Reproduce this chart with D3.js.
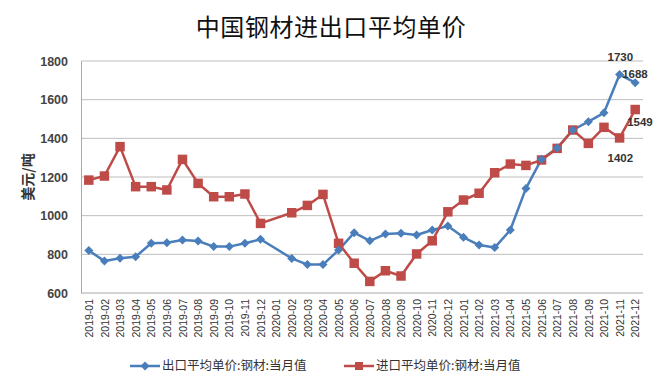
<!DOCTYPE html>
<html><head><meta charset="utf-8">
<script src="https://cdn.jsdelivr.net/npm/d3@7"></script>
<style>body{margin:0;background:#fff}svg{display:block}</style>
</head><body>
<svg id="c" width="660" height="391"></svg>
<script>
const categories = ["2019-01","2019-02","2019-03","2019-04","2019-05","2019-06","2019-07","2019-08","2019-09","2019-10","2019-11","2019-12",
"2020-01","2020-02","2020-03","2020-04","2020-05","2020-06","2020-07","2020-08","2020-09","2020-10","2020-11","2020-12",
"2021-01","2021-02","2021-03","2021-04","2021-05","2021-06","2021-07","2021-08","2021-09","2021-10","2021-11","2021-12"];
const exportPrice = [820,765,780,788,857,860,874,869,840,840,857,878,
null,779,747,747,822,912,870,905,909,900,926,946,
888,848,835,926,1141,1292,1350,1443,1486,1532,1730,1688];
const importPrice = [1184,1205,1357,1150,1150,1133,1291,1167,1098,1098,1112,960,
null,1015,1053,1110,857,754,660,715,688,802,870,1020,
1081,1116,1222,1267,1260,1288,1348,1443,1374,1457,1402,1549];
const yTicks = [600,800,1000,1200,1400,1600,1800];
const seriesNames = ["出口平均单价:钢材:当月值","进口平均单价:钢材:当月值"];
const title = "中国钢材进出口平均单价";
const yLabel = "美元/吨";
const labelPoints = [
  {s:0, i:34, text:"1730", dx:-12, dy:-14},
  {s:0, i:35, text:"1688", dx:-13, dy:-5},
  {s:1, i:35, text:"1549", dx:-8, dy:16},
  {s:1, i:34, text:"1402", dx:-12, dy:24}
];

(function(){
const svg = d3.select("#c");
const pl = 81, pr = 643, pt = 61, pb = 293;
const x = d3.scalePoint().domain(categories).range([pl, pr]).padding(0.5);
const y = d3.scaleLinear().domain([600,1800]).range([pb, pt]);
const colors = ["#4A7EBB","#BE4B48"];

svg.append("text").attr("x",331).attr("y",36).attr("text-anchor","middle")
  .attr("font-family","Noto Sans CJK SC").attr("font-size",24).attr("letter-spacing",0.6)
  .attr("fill","#111").text(title);

svg.append("g").selectAll("line").data(yTicks.filter(d=>d>600)).join("line")
  .attr("x1",pl).attr("x2",pr).attr("y1",d=>y(d)).attr("y2",d=>y(d))
  .attr("stroke","#BDBDBD").attr("stroke-width",1);

const yAxis = svg.append("g").attr("transform",`translate(${pl},0)`)
  .call(d3.axisLeft(y).tickValues(yTicks).tickFormat(d3.format("d")).tickSize(0).tickPadding(13));
yAxis.select(".domain").attr("stroke","#A8A8A8");
yAxis.selectAll("text").attr("font-family","Liberation Sans").attr("font-size",12.5)
  .attr("font-weight","bold").attr("fill","#444");

const xAxis = svg.append("g").attr("transform",`translate(0,${pb})`)
  .call(d3.axisBottom(x).tickSize(0).tickPadding(0));
xAxis.select(".domain").attr("stroke","#A8A8A8").attr("d",`M${pl},0H${pr}`);
xAxis.selectAll("text").attr("font-family","Liberation Sans").attr("font-size",10.5)
  .attr("fill","#333").attr("text-anchor","end")
  .attr("transform","rotate(-90)").attr("x",-6).attr("y",0).attr("dy","0.35em");

svg.append("text").attr("transform","translate(28,177) rotate(-90)").attr("text-anchor","middle")
  .attr("dy","0.35em")
  .attr("font-family","Noto Sans CJK SC").attr("font-weight","bold")
  .attr("font-size",14).attr("fill","#333").text(yLabel);

const line = d3.line().x(d=>x(d.c)).y(d=>y(d.v));
const series = [exportPrice, importPrice].map(arr => arr.map((v,i)=>({c:categories[i], v})).filter(d=>d.v!=null));

series.forEach((data,s)=>{
  svg.append("path").datum(data).attr("d",line).attr("fill","none")
    .attr("stroke",colors[s]).attr("stroke-width",2.5).attr("stroke-linejoin","round");
});
svg.append("g").selectAll("path").data(series[1]).join("path")
  .attr("d",d3.symbol(d3.symbolSquare,90)).attr("transform",d=>`translate(${x(d.c)},${y(d.v)})`)
  .attr("fill",colors[1]);
svg.append("g").selectAll("path").data(series[0]).join("path")
  .attr("d","M0,-4.5L4.5,0L0,4.5L-4.5,0Z").attr("transform",d=>`translate(${x(d.c)},${y(d.v)})`)
  .attr("fill",colors[0]);

svg.append("g").selectAll("text").data(labelPoints).join("text")
  .attr("x",d=>x(categories[d.i])+d.dx).attr("y",d=>y((d.s?importPrice:exportPrice)[d.i])+d.dy)
  .attr("font-family","Liberation Sans").attr("font-weight","bold").attr("font-size",11.5)
  .attr("fill","#333").text(d=>d.text);

const lg = svg.append("g").attr("transform","translate(0,366)");
[{x0:130,tx:162},{x0:344,tx:376}].forEach((p,s)=>{
  lg.append("line").attr("x1",p.x0).attr("x2",p.x0+30).attr("y1",0).attr("y2",0)
    .attr("stroke",colors[s]).attr("stroke-width",2.5);
  if(s===0) lg.append("path").attr("d","M0,-4.5L4.5,0L0,4.5L-4.5,0Z").attr("transform",`translate(${p.x0+15},0)`).attr("fill",colors[0]);
  else lg.append("path").attr("d",d3.symbol(d3.symbolSquare,64)).attr("transform",`translate(${p.x0+15},0)`).attr("fill",colors[1]);
  lg.append("text").attr("x",p.tx).attr("y",0).attr("dy","0.35em")
    .attr("font-family","Noto Sans CJK SC").attr("font-size",12.5).attr("fill","#333").text(seriesNames[s]);
});
})();
</script>
</body></html>
